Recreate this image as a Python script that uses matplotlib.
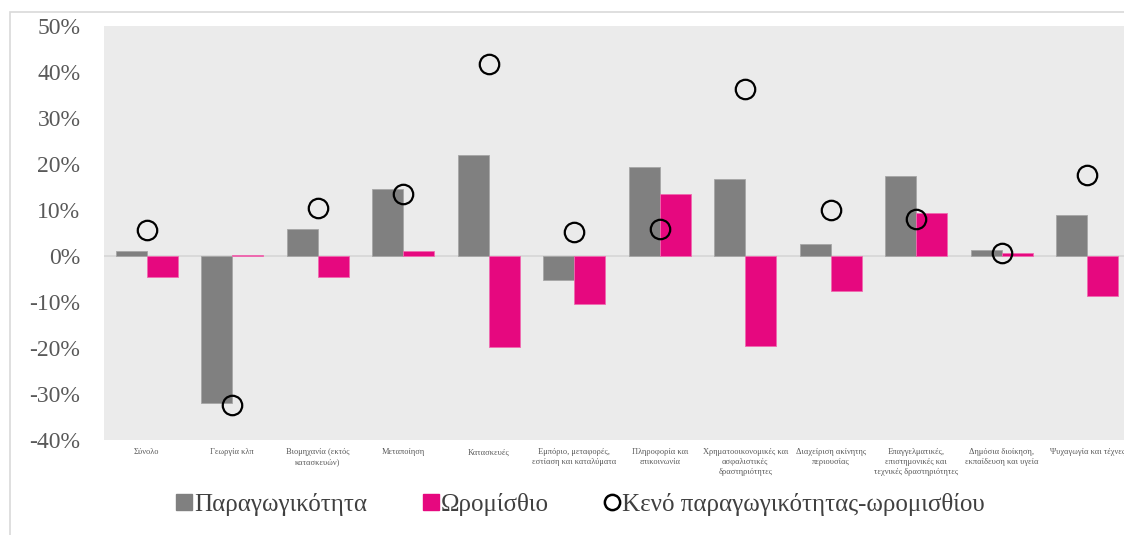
import numpy as np
import matplotlib.pyplot as plt
from matplotlib.patches import Rectangle
from matplotlib.lines import Line2D

plt.rcParams['font.family'] = ['Liberation Serif', 'DejaVu Serif']

categories = ["Σύνολο", "Γεωργία κλπ", "Βιομηχανία (εκτός\nκατασκευών)", "Μεταποίηση",
              "Κατασκευές", "Εμπόριο, μεταφορές,\nεστίαση και καταλύματα",
              "Πληροφορία και\nεπικοινωνία", "Χρηματοοικονομικές και\nασφαλιστικές\nδραστηριότητες",
              "Διαχείριση ακίνητης\nπεριουσίας", "Επαγγελματικές,\nεπιστημονικές και\nτεχνικές δραστηριότητες",
              "Δημόσια διοίκηση,\nεκπαίδευση και υγεία", "Ψυχαγωγία και τέχνες"]
productivity = [1.1, -32.0, 5.9, 14.6, 22.0, -5.3, 19.4, 16.7, 2.6, 17.3, 1.3, 8.9]
wage = [-4.5, 0.3, -4.5, 1.1, -19.8, -10.5, 13.5, -19.6, -7.5, 9.3, 0.7, -8.7]
gap = [5.6, -32.3, 10.4, 13.5, 41.8, 5.2, 5.9, 36.3, 10.1, 8.0, 0.6, 17.6]

x = np.arange(len(categories))
w = 0.365

fig = plt.figure(figsize=(11.24, 5.35), dpi=100)
# outer chart frame
fig.patches.append(Rectangle((10/1124, -0.1), 1.2, (535-12)/535 + 0.1, transform=fig.transFigure,
                             fill=False, edgecolor='#D9D9D9', linewidth=1.2))

ax = fig.add_axes([104/1124, (535-440)/535, 1026/1124, 414/535])
ax.set_facecolor('#EBEBEB')

ax.bar(x - w/2, productivity, w, color='#808080', edgecolor='#A6A6A6', linewidth=0.6, zorder=2)
ax.bar(x + w/2, wage, w, color='#E6087F', edgecolor='#F06AB0', linewidth=0.6, zorder=2)
ax.plot(x, gap, linestyle='none', marker='o', markersize=14, markerfacecolor='none',
        markeredgecolor='black', markeredgewidth=1.6, zorder=3)
ax.axhline(0, color='#D6D6D6', linewidth=1.2, zorder=1)

ax.set_xlim(-0.5, len(categories) - 0.5)
ax.set_ylim(-40, 50)
ax.set_yticks(np.arange(-40, 51, 10))
ax.set_yticklabels([f"{v}%" for v in range(-40, 51, 10)], fontsize=17, color='#595959')
ax.set_xticks(x)
ax.set_xticklabels(categories, fontsize=6, color='#595959', va='top', linespacing=1.3)
ax.tick_params(axis='both', length=0)
ax.tick_params(axis='y', pad=17)
ax.tick_params(axis='x', pad=6)
for s in ax.spines.values():
    s.set_visible(False)

handles = [
    Line2D([], [], linestyle='none', marker='s', markersize=11, color='#808080'),
    Line2D([], [], linestyle='none', marker='s', markersize=11, color='#E6087F'),
    Line2D([], [], linestyle='none', marker='o', markersize=11, markerfacecolor='none',
           markeredgecolor='black', markeredgewidth=1.8),
]
labels = ["Παραγωγικότητα", "Ωρομίσθιο", "Κενό παραγωγικότητας-ωρομισθίου"]
fig.legend(handles, labels, loc='center', bbox_to_anchor=(580/1124, 1 - 504/535), ncol=3,
           frameon=False, fontsize=18, handletextpad=0.05, columnspacing=2.2,
           labelcolor='#404040', handlelength=0.7)

fig.savefig('out.png', dpi=100)
